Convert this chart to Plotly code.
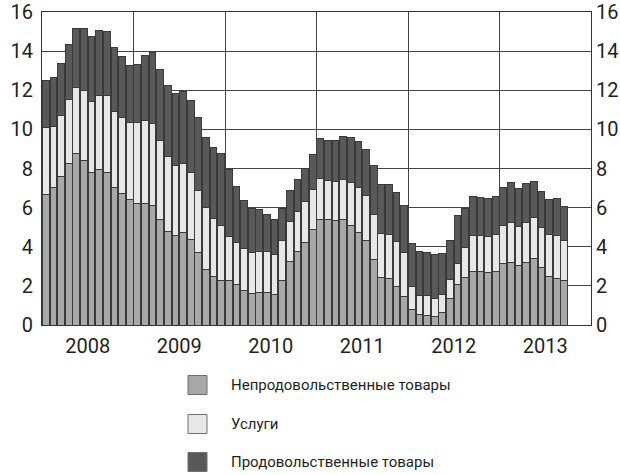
import plotly.graph_objects as go

years = ["2008", "2009", "2010", "2011", "2012", "2013"]

# contributions, monthly Jan 2008 - Sep 2013
nonfood = [
    6.67, 7.02, 7.58, 8.24, 8.76, 8.43, 7.79, 7.97, 7.81, 7.02, 6.72, 6.43,
    6.20, 6.21, 6.09, 5.40, 4.80, 4.55, 4.71, 4.39, 3.73, 2.85, 2.47, 2.27,
    2.27, 2.05, 1.76, 1.62, 1.65, 1.66, 1.58, 2.30, 3.27, 3.77, 4.24, 4.88,
    5.37, 5.37, 5.33, 5.40, 5.09, 4.75, 4.34, 3.36, 2.44, 2.37, 1.99, 1.48,
    0.77, 0.56, 0.49, 0.43, 0.65, 1.35, 2.06, 2.42, 2.73, 2.73, 2.69, 2.76,
    3.15, 3.20, 3.05, 3.20, 3.41, 2.95, 2.47, 2.39, 2.30,
]
services = [
    3.43, 3.15, 3.14, 3.29, 3.39, 3.56, 3.66, 3.75, 3.91, 3.88, 3.88, 3.91,
    4.16, 4.23, 4.22, 4.02, 3.80, 3.59, 3.57, 3.43, 3.17, 3.15, 2.98, 2.84,
    2.24, 2.16, 2.14, 2.11, 2.10, 2.09, 2.03, 2.04, 2.03, 2.04, 2.08, 2.05,
    2.13, 2.01, 2.01, 2.06, 2.18, 2.27, 2.27, 2.30, 2.24, 2.26, 2.30, 2.23,
    1.19, 0.97, 1.01, 0.93, 0.92, 0.98, 1.06, 1.55, 1.84, 1.84, 1.82, 1.87,
    1.96, 2.06, 2.01, 2.06, 2.09, 2.02, 2.15, 2.21, 2.04,
]
food = [
    2.42, 2.49, 2.65, 2.83, 3.01, 3.17, 3.29, 3.31, 3.29, 3.29, 3.15, 2.90,
    2.96, 3.32, 3.61, 3.66, 3.63, 3.67, 3.68, 3.68, 3.70, 3.59, 3.61, 3.66,
    3.45, 2.89, 2.45, 2.22, 2.13, 1.92, 1.76, 1.61, 1.60, 1.63, 1.67, 1.81,
    2.04, 2.07, 2.11, 2.17, 2.34, 2.38, 2.38, 2.47, 2.51, 2.54, 2.47, 2.39,
    2.21, 2.23, 2.21, 2.23, 2.06, 1.98, 2.47, 1.99, 1.99, 1.95, 1.95, 1.93,
    1.93, 2.00, 1.92, 1.96, 1.86, 1.88, 1.80, 1.86, 1.74,
]
series_names = ["Непродовольственные товары", "Услуги", "Продовольственные товары"]
y_ticks = [0, 2, 4, 6, 8, 10, 12, 14, 16]

colors = ["#a7a8aa", "#e6e7e8", "#58595b"]
outline = "#3a3a3a"
FONT = "Liberation Sans Narrow, Roboto, sans-serif"
TXT = "#231f20"

x = list(range(len(nonfood)))

fig = go.Figure()
for name, vals, col in zip(series_names, [nonfood, services, food], colors):
    fig.add_trace(go.Bar(
        x=x, y=vals, name=name, marker=dict(color=col, line=dict(color=outline, width=1)),
        showlegend=False,
    ))
# invisible trace on y2 for the right-side labels
fig.add_trace(go.Scatter(x=[0], y=[0], yaxis="y2", mode="markers",
                         marker=dict(opacity=0), showlegend=False, hoverinfo="skip"))

centers = [i * 12 + 5.5 for i in range(len(years))]
bounds = [i * 12 - 0.5 for i in range(1, len(years))]

fig.update_layout(
    width=620, height=475,
    margin=dict(l=42, r=29, t=12, b=150),
    paper_bgcolor="white", plot_bgcolor="white",
    barmode="stack", bargap=0.1,
    font=dict(family=FONT, color=TXT),
    xaxis=dict(
        range=[-0.5, 71.5], tickvals=centers, ticktext=years, automargin=False,
        tickfont=dict(size=20, family=FONT, color=TXT), ticklabelstandoff=3,
        showgrid=False, ticks="", zeroline=False,
        showline=True, linecolor="#333333", linewidth=1, mirror=True,
        minor=dict(tickvals=bounds, showgrid=True, gridcolor="#444444", gridwidth=1, ticks=""),
    ),
    yaxis=dict(
        range=[0, 16], tickvals=y_ticks, tickfont=dict(size=20, family=FONT, color=TXT),
        showgrid=True, gridcolor="#444444", gridwidth=1, zeroline=False, automargin=False,
        showline=True, linecolor="#333333", linewidth=1, mirror=True, ticks="",
        ticklabelstandoff=4,
    ),
    yaxis2=dict(
        range=[0, 16], tickvals=y_ticks, tickfont=dict(size=20, family=FONT, color=TXT),
        overlaying="y", side="right", showgrid=False, zeroline=False, ticks="",
        automargin=False, ticklabelstandoff=4,
    ),
)

# legend drawn manually (large squares)
leg_y = [385, 424, 462]
for name, col, yy in zip(series_names, colors, leg_y):
    fig.add_shape(type="rect", xref="paper", yref="paper",
                  x0=(188 - 42) / 549, x1=(207 - 42) / 549,
                  y0=(325 - (yy + 9.5)) / 313, y1=(325 - (yy - 9.5)) / 313,
                  fillcolor=col, line=dict(color="#6d6e70", width=1))
    fig.add_annotation(xref="paper", yref="paper", x=(229 - 42) / 549, y=(325 - yy) / 313,
                       text=name, showarrow=False, xanchor="left", yanchor="middle",
                       font=dict(size=15, family=FONT, color=TXT))

fig.write_html("out.html", config={"displayModeBar": False},
               post_script="document.body.style.margin='0';")
